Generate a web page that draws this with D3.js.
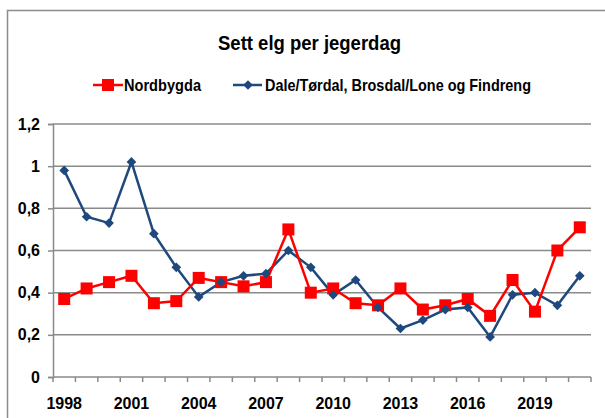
<!DOCTYPE html>
<html><head><meta charset="utf-8">
<script src="https://cdn.jsdelivr.net/npm/d3@7"></script>
<style>body{margin:0;background:#fff}svg{display:block}</style>
</head><body><svg id="c" width="605" height="418"></svg>
<script>
const years = [1998,1999,2000,2001,2002,2003,2004,2005,2006,2007,2008,2009,2010,2011,2012,2013,2014,2015,2016,2017,2018,2019,2020,2021];
const nordbygda = [0.37,0.42,0.45,0.48,0.35,0.36,0.47,0.45,0.43,0.45,0.70,0.40,0.42,0.35,0.34,0.42,0.32,0.34,0.37,0.29,0.46,0.31,0.60,0.71];
const dale = [0.98,0.76,0.73,1.02,0.68,0.52,0.38,0.45,0.48,0.49,0.60,0.52,0.39,0.46,0.33,0.23,0.27,0.32,0.33,0.19,0.39,0.40,0.34,0.48];
const yTicks = [0,0.2,0.4,0.6,0.8,1,1.2];
const xLabelYears = [1998,2001,2004,2007,2010,2013,2016,2019];
const title = "Sett elg per jegerdag";
const seriesNames = ["Nordbygda","Dale/Tørdal, Brosdal/Lone og Findreng"];

const svg = d3.select("#c");
const font = "'Liberation Sans', Arial, sans-serif";
const mLeft = 53, mRight = 591, mTop = 124, mBottom = 377;

svg.append("rect").attr("x",7.5).attr("y",10.5).attr("width",620).attr("height",430)
  .attr("fill","none").attr("stroke","#8c8c8c").attr("stroke-width",1.5);

const x = d3.scaleBand().domain(years).range([mLeft,mRight]).padding(0);
const y = d3.scaleLinear().domain([0,1.2]).range([mBottom,mTop]);

// gridlines
svg.append("g").selectAll("line").data(yTicks.filter(d=>d>0)).join("line")
  .attr("x1",mLeft).attr("x2",mRight).attr("y1",d=>y(d)).attr("y2",d=>y(d))
  .attr("stroke","#8a8a8a").attr("stroke-width",1.5);

// y axis
const fmt = d => String(+d.toFixed(1)).replace(".",",");
const ya = svg.append("g").attr("transform",`translate(${mLeft},0)`)
  .call(d3.axisLeft(y).tickValues(yTicks).tickFormat(fmt).tickSize(5).tickPadding(8));
ya.select(".domain").attr("stroke","#8a8a8a").attr("stroke-width",1.5);
ya.selectAll(".tick line").attr("stroke","#8a8a8a").attr("stroke-width",1.5);
ya.selectAll("text").attr("font-family",font).attr("font-weight","bold").attr("font-size",16).attr("fill","#000");

// x axis: ticks at category boundaries
const xa = svg.append("g").attr("transform",`translate(0,${mBottom})`);
xa.append("line").attr("x1",mLeft).attr("x2",mRight).attr("stroke","#8a8a8a").attr("stroke-width",1.5);
const bounds = years.map(d=>x(d)).concat([mRight]);
xa.selectAll(".tk").data(bounds).join("line").attr("class","tk")
  .attr("x1",d=>d).attr("x2",d=>d).attr("y1",0).attr("y2",5)
  .attr("stroke","#8a8a8a").attr("stroke-width",1.5);
xa.selectAll("text").data(xLabelYears).join("text")
  .attr("x",d=>x(d)+x.bandwidth()/2).attr("y",32).attr("text-anchor","middle")
  .attr("font-family",font).attr("font-weight","bold").attr("font-size",16).text(d=>d);

const cx = d => x(d)+x.bandwidth()/2;
const line = d3.line().x((d,i)=>cx(years[i])).y(d=>y(d));

// blue series
svg.append("path").datum(dale).attr("d",line).attr("fill","none").attr("stroke","#1f497d").attr("stroke-width",2.5);
// red series
svg.append("path").datum(nordbygda).attr("d",line).attr("fill","none").attr("stroke","#ff0000").attr("stroke-width",2.5);
svg.append("g").selectAll("rect").data(nordbygda).join("rect")
  .attr("x",(d,i)=>cx(years[i])-6).attr("y",d=>y(d)-6).attr("width",12).attr("height",12).attr("fill","#ff0000");
const diamond = d3.symbol().type(d3.symbolDiamond2).size(60);
svg.append("g").selectAll("path").data(dale).join("path")
  .attr("d",diamond).attr("transform",(d,i)=>`translate(${cx(years[i])},${y(d)})`)
  .attr("fill","#1f497d");

// title
svg.append("text").attr("x",218).attr("y",50)
  .attr("font-family",font).attr("font-weight","bold").attr("font-size",20)
  .attr("textLength",183).attr("lengthAdjust","spacingAndGlyphs").text(title);

// legend
const lg = svg.append("g");
lg.append("line").attr("x1",93).attr("x2",123).attr("y1",85).attr("y2",85).attr("stroke","#ff0000").attr("stroke-width",2.5);
lg.append("rect").attr("x",102).attr("y",79).attr("width",12).attr("height",12).attr("fill","#ff0000");
lg.append("text").attr("x",124).attr("y",91).attr("font-family",font).attr("font-weight","bold").attr("font-size",17)
  .attr("textLength",77).attr("lengthAdjust","spacingAndGlyphs").text(seriesNames[0]);
lg.append("line").attr("x1",233).attr("x2",262).attr("y1",85).attr("y2",85).attr("stroke","#1f497d").attr("stroke-width",2.5);
lg.append("path").attr("d",diamond).attr("transform","translate(248,85)").attr("fill","#1f497d");
lg.append("text").attr("x",265).attr("y",91).attr("font-family",font).attr("font-weight","bold").attr("font-size",17)
  .attr("textLength",266).attr("lengthAdjust","spacingAndGlyphs").text(seriesNames[1]);
</script></body></html>
